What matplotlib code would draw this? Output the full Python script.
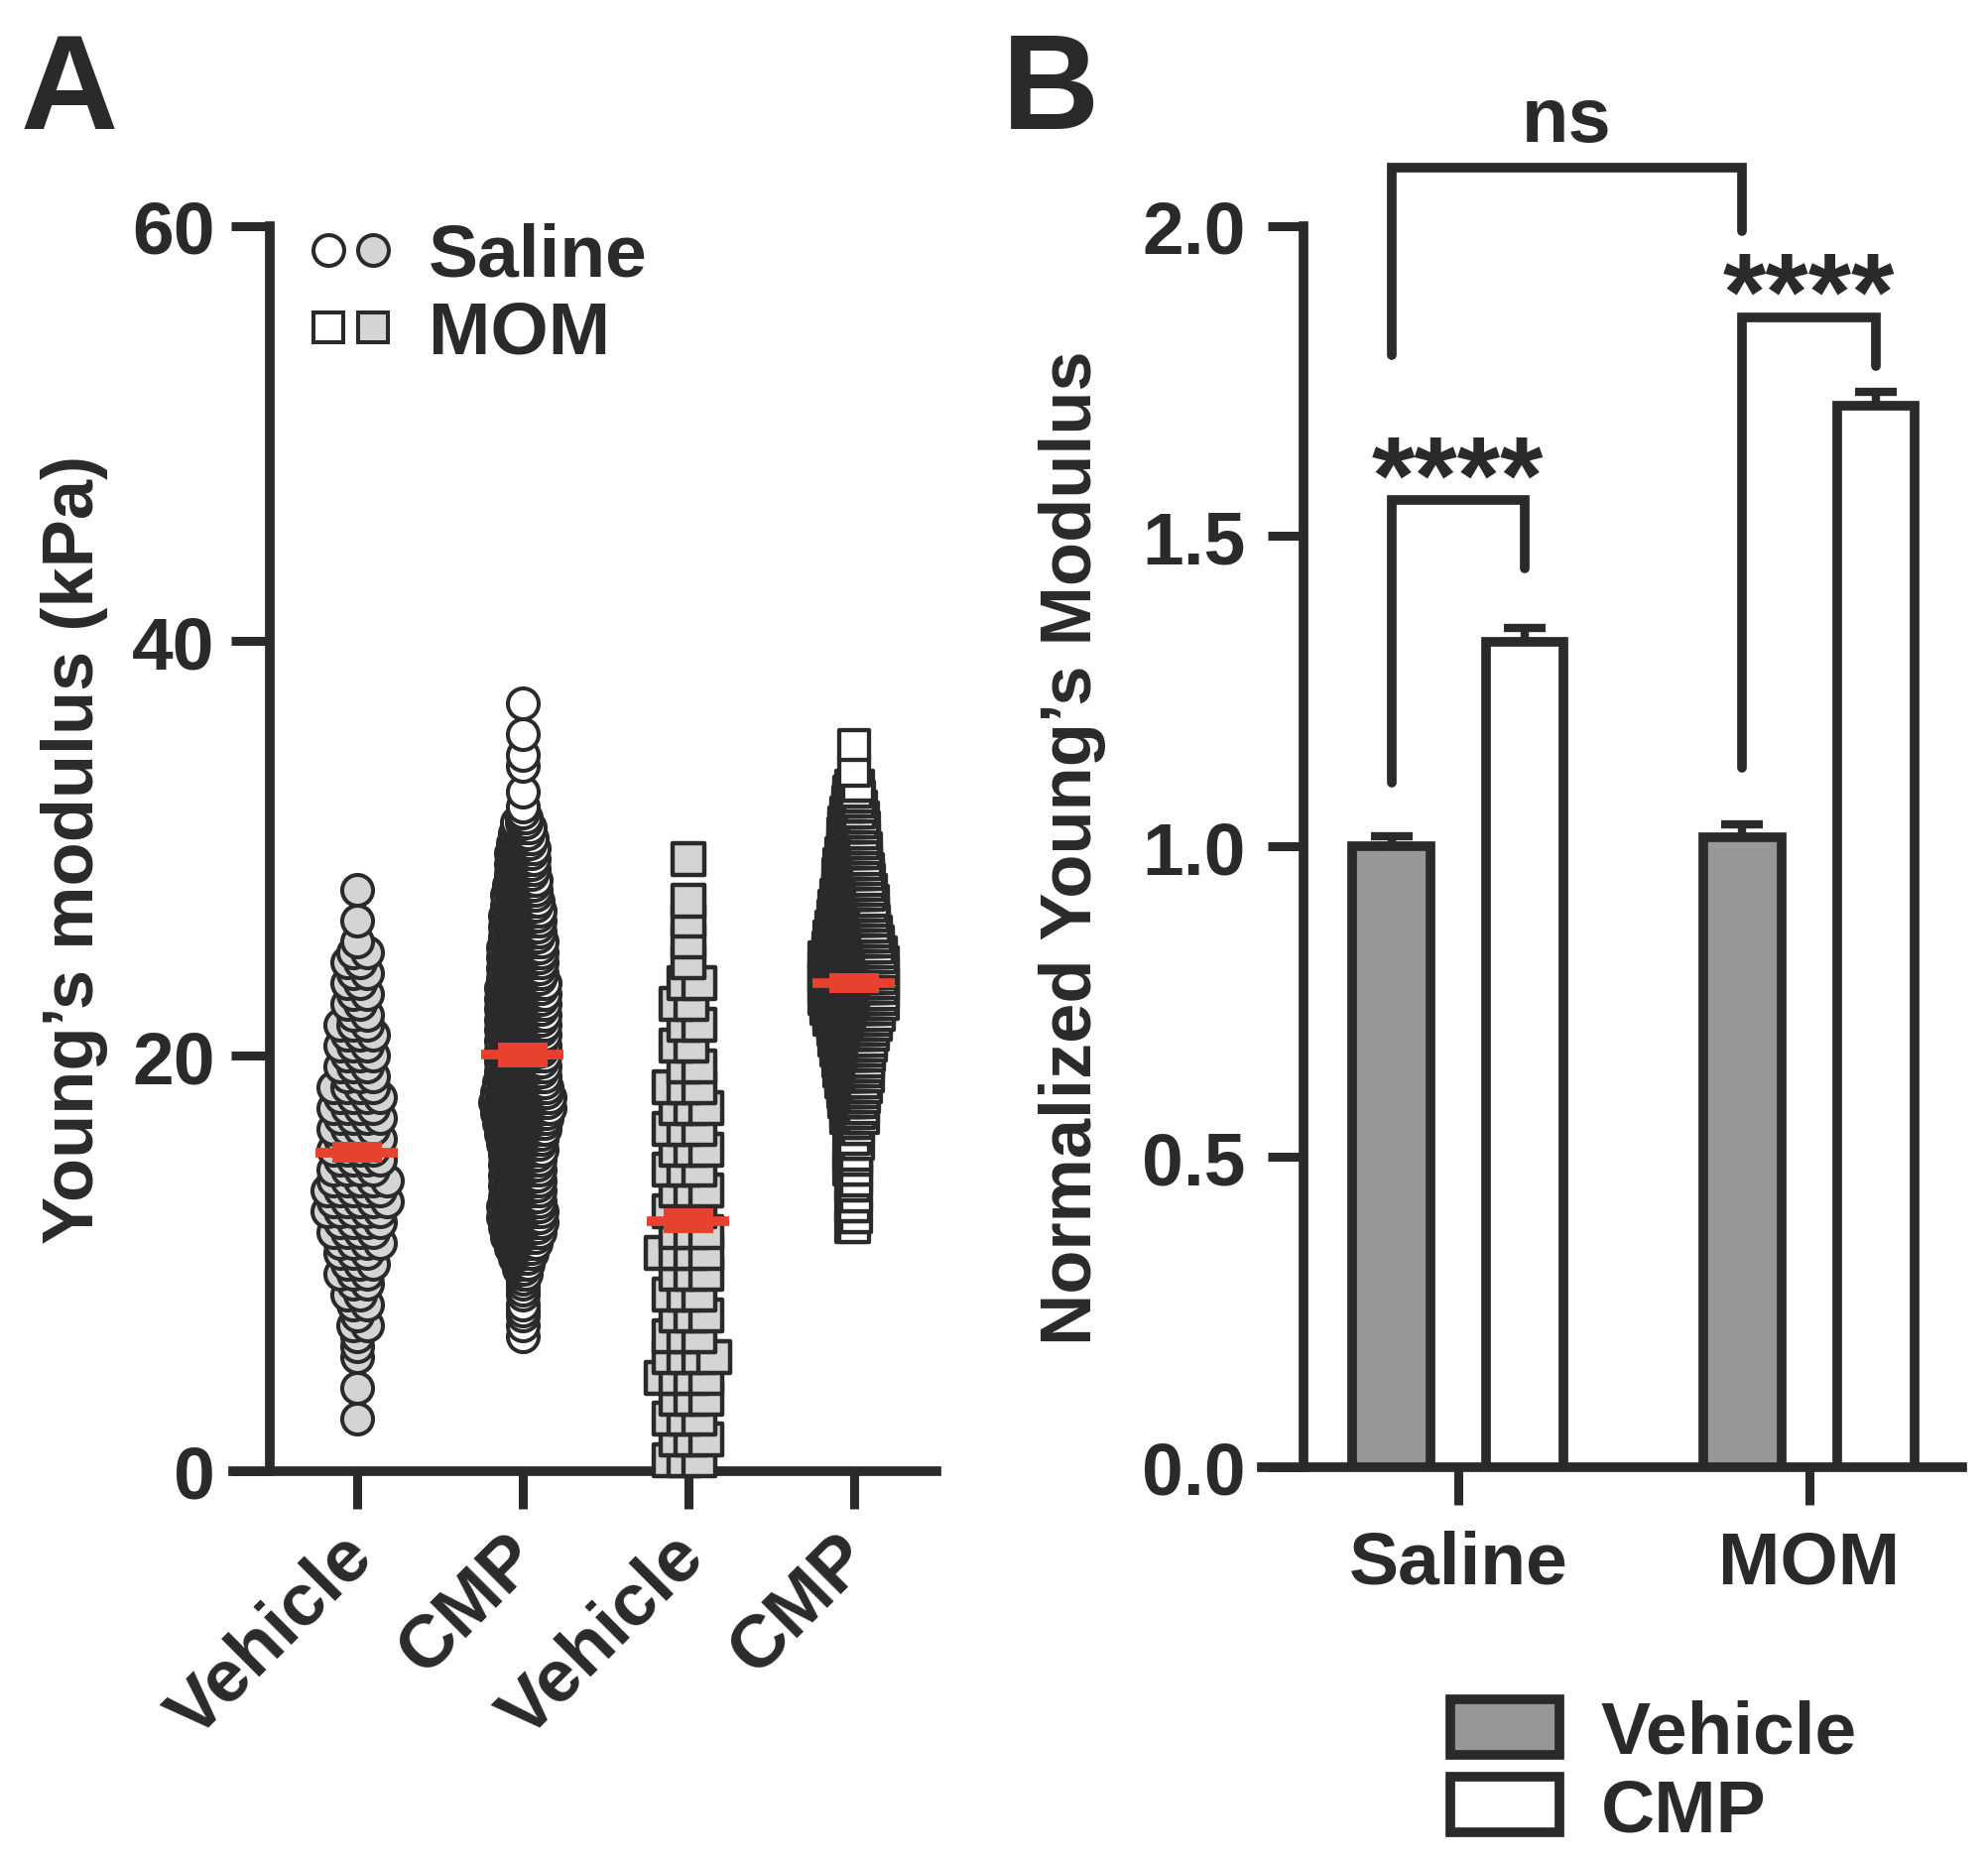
import numpy as np
import matplotlib
matplotlib.use("Agg")
import matplotlib.pyplot as plt
from matplotlib.patches import Patch
from matplotlib.lines import Line2D
from matplotlib.legend_handler import HandlerTuple
from matplotlib.transforms import ScaledTranslation

plt.rcParams['font.family'] = ['Liberation Sans', 'DejaVu Sans']
plt.rcParams['font.weight'] = 'bold'
plt.rcParams['axes.labelweight'] = 'bold'
DARK = '#2a2a2a'
RED = '#e8412f'
GRAY_PT = '#d4d4d4'
GRAY_BAR = '#979797'
LW = 7.0

a_labels = ['Vehicle', 'CMP', 'Vehicle', 'CMP']

sal_veh_bins = np.arange(2.5, 28.01, 0.5)
sal_veh_counts = [1, 0, 0, 1, 0, 0, 1, 1, 1, 2,
                  1, 2, 2, 2, 3, 3, 3, 4, 4, 4,
                  5, 5, 5, 5, 4, 4, 4, 4, 4, 4,
                  4, 4, 4, 3, 3, 3, 3, 3, 3, 2,
                  2, 2, 2, 2, 2, 2, 1, 0, 1, 0,
                  0, 1]

sal_cmp_bins = np.arange(6.5, 37.01, 0.25)
sal_cmp_counts = [1, 0, 1, 0, 1, 1, 1, 0, 1, 1,
                  1, 1, 2, 2, 3, 4, 5, 6, 7, 8,
                  9, 9, 10, 10, 10, 10, 9, 9, 9, 9,
                  9, 9, 9, 9, 9, 9, 10, 10, 10, 11,
                  11, 12, 12, 13, 14, 14, 14, 13, 12, 12,
                  11, 11, 11, 11, 11, 11, 11, 11, 11, 11,
                  11, 11, 11, 11, 11, 11, 11, 11, 11, 10,
                  10, 10, 10, 10, 10, 10, 10, 9, 9, 9,
                  9, 9, 9, 8, 8, 8, 7, 7, 7, 6,
                  6, 6, 6, 6, 6, 5, 5, 4, 4, 3,
                  2, 1, 1, 0, 0, 1, 0, 0, 0, 0,
                  1, 0, 1, 0, 0, 0, 1, 0, 0, 0,
                  0, 0, 1]

mom_veh_bins = np.arange(0.5, 29.51, 1.0)
mom_veh_counts = [3, 3, 3, 3, 4, 4, 3, 3, 3, 3,
                  4, 3, 3, 3, 3, 3, 3, 3, 3, 2,
                  2, 2, 2, 2, 1, 1, 1, 1, 0, 1]

mom_cmp_bins = np.arange(11.75, 35.01, 0.25)
mom_cmp_counts = [2, 0, 2, 0, 2, 0, 2, 0, 2, 2,
                  0, 3, 0, 2, 3, 0, 3, 2, 0, 3,
                  3, 6, 5, 6, 6, 7, 7, 8, 8, 9,
                  9, 9, 10, 10, 11, 11, 12, 12, 13, 14,
                  15, 16, 17, 18, 19, 20, 20, 20, 20, 20,
                  20, 19, 18, 17, 16, 15, 15, 14, 14, 13,
                  13, 12, 12, 12, 11, 11, 10, 10, 10, 9,
                  9, 8, 8, 8, 7, 7, 7, 7, 6, 6,
                  5, 5, 4, 4, 3, 3, 0, 0, 1, 0,
                  0, 0, 0, 1]

a_means = [15.35, 20.05, 12.05, 23.5]
a_sems = [0.5, 0.6, 0.6, 0.48]

# ---- panel B: normalized modulus ----
b_groups = ['Saline', 'MOM']
veh_mean = [1.0, 1.015]
veh_sem = [0.017, 0.02]
cmp_mean = [1.33, 1.71]
cmp_sem = [0.022, 0.022]


def swarm(bins, counts, pos, step, half):
    xs, ys = [], []
    row = 0
    for v, n in zip(bins, counts):
        if n == 0:
            continue
        span = min((n - 1) * step, 2 * half)
        if n > 1:
            offs = np.linspace(-span / 2, span / 2, n)
            offs = offs + (step / 4 if row % 2 else -step / 4)
        else:
            offs = np.array([0.0])
        xs.extend(pos + offs)
        ys.extend([v] * n)
        row += 1
    return np.array(xs), np.array(ys)


fig = plt.figure(figsize=(20.04, 18.81), dpi=100)
fig.patch.set_facecolor('white')

# ================= A =================
axA = fig.add_axes([0.1173, 0.2112, 0.3538, 0.6672])
groups = [
    (sal_veh_bins, sal_veh_counts, 'o', GRAY_PT, 500, 2.9, 0.08, 0.16),
    (sal_cmp_bins, sal_cmp_counts, 'o', 'white', 500, 2.9, 0.025, 0.16),
    (mom_veh_bins, mom_veh_counts, 's', GRAY_PT, 560, 3.2, 0.09, 0.15),
    (mom_cmp_bins, mom_cmp_counts, 's', 'white', 450, 3.1, 0.02, 0.17),
]
for i, (bins, counts, mk, fc, s, lw, step, half) in enumerate(groups):
    xs, ys = swarm(bins, counts, i, step, half)
    axA.scatter(xs, ys, s=s, marker=mk, facecolor=fc, edgecolor=DARK,
                linewidth=lw, zorder=3, clip_on=False)
    axA.plot([i - 0.25, i + 0.25], [a_means[i]] * 2, color=RED, lw=7,
             solid_capstyle='butt', zorder=5)
    axA.bar(i, 2 * a_sems[i], bottom=a_means[i] - a_sems[i], width=0.3,
            color=RED, zorder=5)

axA.set_xlim(-0.746, 3.5)
axA.set_ylim(0, 60)
for sp in ['top', 'right']:
    axA.spines[sp].set_visible(False)
axA.spines['left'].set_position(('data', -0.523))
axA.spines['left'].set_bounds(0, 60)
for sp in ['left', 'bottom']:
    axA.spines[sp].set_linewidth(LW)
    axA.spines[sp].set_color(DARK)
axA.set_yticks([0, 20, 40, 60])
axA.set_xticks(range(4))
axA.tick_params(axis='y', length=28, width=6.5, pad=12, labelsize=54,
                color=DARK, labelcolor=DARK)
axA.tick_params(axis='x', length=27, width=6.5, pad=18, labelsize=54,
                color=DARK, labelcolor=DARK)
axA.set_xticklabels(a_labels, rotation=45, ha='right', va='top',
                    rotation_mode='anchor')
shift = ScaledTranslation(-14 / 72, 9 / 72, fig.dpi_scale_trans)
for lab in axA.get_xticklabels():
    lab.set_transform(lab.get_transform() + shift)
axA.set_ylabel('Young\u2019s modulus (kPa)', fontsize=52, color=DARK,
               fontweight='bold')
axA.yaxis.set_label_coords(-0.178, 0.5)

mk_kw = dict(ls='none', ms=22.3, mec=DARK, mew=2.9)
h_o1 = Line2D([], [], marker='o', mfc='white', **mk_kw)
h_o2 = Line2D([], [], marker='o', mfc=GRAY_PT, **mk_kw)
h_s1 = Line2D([], [], marker='s', mfc='white', **mk_kw)
h_s2 = Line2D([], [], marker='s', mfc=GRAY_PT, **mk_kw)
legA = fig.legend(handles=[(h_o1, h_o2), (h_s1, h_s2)], labels=['Saline', 'MOM'],
                  handler_map={tuple: HandlerTuple(ndivide=None, pad=0)},
                  loc='upper left', bbox_to_anchor=(240 / 1560, 1 - 175 / 1464.3),
                  frameon=False, fontsize=54, handlelength=1.2,
                  handletextpad=0.45, labelspacing=0.12, borderpad=0,
                  borderaxespad=0)
for t in legA.get_texts():
    t.set_color(DARK)

# ================= B =================
axB = fig.add_axes([0.6346, 0.2133, 0.3525, 0.6651])
x = np.arange(len(b_groups))
off, bw = 0.19, 0.222
axB.bar(x - off, veh_mean, bw, color=GRAY_BAR, edgecolor=DARK, linewidth=LW,
        zorder=3, label='Vehicle')
axB.bar(x + off, cmp_mean, bw, color='white', edgecolor=DARK, linewidth=LW,
        zorder=3, label='CMP')
axB.errorbar(x - off, veh_mean, yerr=[np.zeros(2), veh_sem], fmt='none',
             ecolor=DARK, elinewidth=6, capsize=15, capthick=6, zorder=2)
axB.errorbar(x + off, cmp_mean, yerr=[np.zeros(2), cmp_sem], fmt='none',
             ecolor=DARK, elinewidth=6, capsize=15, capthick=6, zorder=2)


def bracket(ax, x1, x2, y1, ytop, y2, text, ty, fs, base):
    ax.plot([x1, x1, x2, x2], [y1, ytop, ytop, y2], color=DARK, lw=LW,
            solid_joinstyle='miter', solid_capstyle='round', clip_on=False,
            zorder=4)
    ax.annotate(text, ((x1 + x2) / 2, ty), xytext=(0, -base * fs),
                textcoords='offset points', ha='center', va='baseline',
                fontsize=fs, color=DARK, annotation_clip=False)


bracket(axB, x[0] - off, x[0] + off, 1.103, 1.559, 1.448, '****', 1.64, 80, 0.57)
bracket(axB, x[1] - off, x[1] + off, 1.127, 1.852, 1.774, '****', 1.935, 80, 0.57)
bracket(axB, x[0] - off, x[1] - off, 1.791, 2.094, 1.992, 'ns', 2.17, 56, 0.26)

axB.set_xlim(-0.56, 1.437)
axB.set_ylim(0, 2.0)
for sp in ['top', 'right']:
    axB.spines[sp].set_visible(False)
axB.spines['left'].set_position(('data', -0.44))
axB.spines['left'].set_bounds(0, 2.0)
for sp in ['left', 'bottom']:
    axB.spines[sp].set_linewidth(LW)
    axB.spines[sp].set_color(DARK)
axB.set_yticks([0, 0.5, 1.0, 1.5, 2.0])
axB.set_yticklabels(['%.1f' % v for v in [0, 0.5, 1.0, 1.5, 2.0]])
axB.set_xticks(x)
axB.set_xticklabels(b_groups)
axB.tick_params(axis='y', length=26, width=6.5, pad=16, labelsize=54,
                color=DARK, labelcolor=DARK)
axB.tick_params(axis='x', length=27, width=6.5, pad=18, labelsize=54,
                color=DARK, labelcolor=DARK)
axB.set_ylabel('Normalized Young\u2019s Modulus', fontsize=52, color=DARK,
               fontweight='bold')
axB.yaxis.set_label_coords(-0.222, 0.5)

legB = fig.legend(handles=[Patch(facecolor=GRAY_BAR, edgecolor=DARK, linewidth=LW),
                           Patch(facecolor='white', edgecolor=DARK, linewidth=LW)],
                  labels=['Vehicle', 'CMP'], loc='upper left',
                  bbox_to_anchor=(1138 / 1560, 1 - 1334 / 1464.3), frameon=False,
                  fontsize=54, handlelength=1.47, handleheight=0.78,
                  handletextpad=0.55, labelspacing=0.12, borderpad=0,
                  borderaxespad=0)
for t in legB.get_texts():
    t.set_color(DARK)

fig.text(16 / 1560, 1 - 101 / 1464.3, 'A', fontsize=98, color=DARK,
         va='baseline', ha='left')
fig.text(786 / 1560, 1 - 101 / 1464.3, 'B', fontsize=98, color=DARK,
         va='baseline', ha='left')

fig.savefig('out.png', dpi=100, facecolor='white')
